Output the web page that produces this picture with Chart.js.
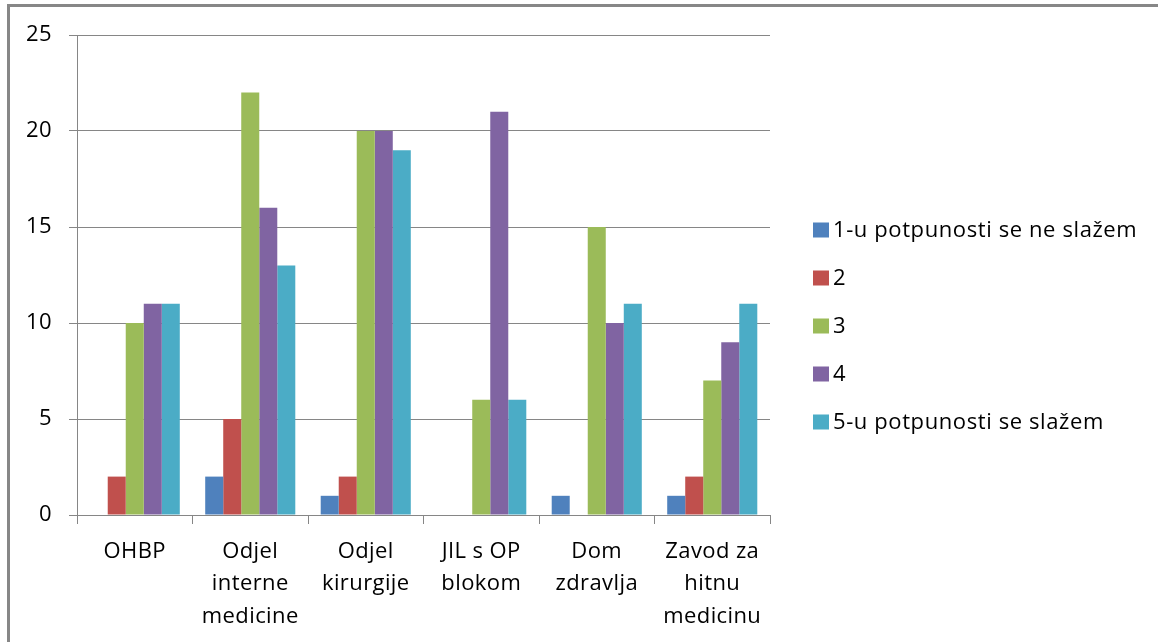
<!DOCTYPE html>
<html>
<head>
<meta charset="utf-8">
<script src="https://cdn.jsdelivr.net/npm/chart.js@4.4.0/dist/chart.umd.min.js"></script>
<style>
  html, body { margin: 0; padding: 0; background: #fff; }
  #wrap { position: relative; width: 1158px; height: 642px; overflow: hidden; }
  #frame { position: absolute; left: 7px; top: 4px; width: 1200px; height: 700px;
           border-left: 3px solid #878787; border-top: 3px solid #878787; pointer-events: none; }
  canvas { position: absolute; left: 0; top: 0; }
</style>
</head>
<body>
<div id="wrap">
  <canvas id="c" width="1158" height="642"></canvas>
  <div id="frame"></div>
</div>
<script>
const categories = [
  "OHBP",
  ["Odjel", "interne", "medicine"],
  ["Odjel", "kirurgije"],
  ["JIL s OP", "blokom"],
  ["Dom", "zdravlja"],
  ["Zavod za", "hitnu", "medicinu"]
];
const seriesNames = ["1-u potpunosti se ne slažem", "2", "3", "4", "5-u potpunosti se slažem"];
const s1 = [0, 2, 1, 0, 1, 1];
const s2 = [2, 5, 2, 0, 0, 2];
const s3 = [10, 22, 20, 6, 15, 7];
const s4 = [11, 16, 20, 21, 10, 9];
const s5 = [11, 13, 19, 6, 11, 11];
const seriesColors = ["#4F81BD", "#C0504D", "#9BBB59", "#8064A2", "#4BACC6"];
const yTicks = [0, 5, 10, 15, 20, 25];

const FONT = "'Open Sans', sans-serif";
const FSIZE = 22;
const values = [s1, s2, s3, s4, s5];

const spacing = {
  id: 'spacing',
  beforeDraw(chart) { chart.ctx.letterSpacing = '0.4px'; }
};

// Legend drawn to the right of the plot, Excel style
const sideLegend = {
  id: 'sideLegend',
  afterDraw(chart) {
    const ctx = chart.ctx;
    const ds = chart.data.datasets;
    const x0 = chart.chartArea.right + 43;
    const yFirst = 230, step = 48;
    ctx.save();
    ctx.letterSpacing = '0.6px';
    ctx.font = FSIZE + "px " + FONT;
    ctx.textBaseline = 'middle';
    ctx.textAlign = 'left';
    ds.forEach((d, i) => {
      const yc = yFirst + i * step;
      ctx.fillStyle = d.backgroundColor;
      ctx.fillRect(x0, yc - 7.5, 16, 15);
      ctx.fillStyle = '#000';
      ctx.fillText(d.label, x0 + 20, yc + 1);
    });
    ctx.restore();
  }
};

new Chart(document.getElementById('c'), {
  type: 'bar',
  data: {
    labels: categories,
    datasets: values.map((v, i) => ({
      label: seriesNames[i],
      data: v,
      backgroundColor: seriesColors[i],
      borderWidth: 0,
      categoryPercentage: 0.78,
      barPercentage: 1.0
    }))
  },
  plugins: [spacing, sideLegend],
  options: {
    responsive: false,
    animation: false,
    layout: { padding: { top: 35, left: 0, right: 388, bottom: 0 } },
    plugins: {
      tooltip: { enabled: false },
      legend: { display: false }
    },
    scales: {
      x: {
        grid: { display: true, drawOnChartArea: false, drawTicks: true, tickLength: 9, color: '#868686', offset: true },
        border: { display: true, color: '#868686' },
        ticks: { color: '#000', font: { family: FONT, size: FSIZE, lineHeight: 1.48 }, padding: 11, maxRotation: 0, autoSkip: false },
        afterFit: s => { s.height = 127; }
      },
      y: {
        min: 0, max: 25,
        afterBuildTicks: s => { s.ticks = yTicks.map(v => ({ value: v })); },
        grid: { color: '#868686', tickLength: 8 },
        border: { display: true, color: '#868686' },
        ticks: { color: '#000', font: { family: FONT, size: FSIZE }, padding: 17 },
        afterFit: s => { s.width = 77; }
      }
    }
  }
});
</script>
</body>
</html>
